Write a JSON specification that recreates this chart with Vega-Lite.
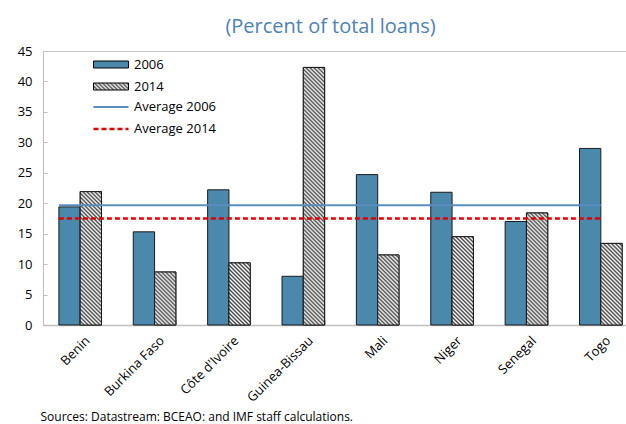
{
  "$schema": "https://vega.github.io/schema/vega-lite/v6.json",
  "width": 595,
  "height": 274,
  "autosize": {"type": "none"},
  "padding": {"left": 43, "top": 51, "right": 0, "bottom": 99},
  "config": {"font": "Open Sans", "view": {"stroke": "#c4c4c4"}},
  "title": {"text": "(Percent of total loans)", "fontSize": 20, "fontWeight": "normal", "color": "#4F81B4", "anchor": "middle", "offset": 8, "dx": -10},
  "params": [
    {"name": "hatchStops", "value": [
      {"offset":0,"color":"#444"},{"offset":0.005,"color":"#fff"},{"offset":0.01,"color":"#444"},{"offset":0.015,"color":"#fff"},{"offset":0.02,"color":"#444"},{"offset":0.025,"color":"#fff"},{"offset":0.03,"color":"#444"},{"offset":0.035,"color":"#fff"},{"offset":0.04,"color":"#444"},{"offset":0.045,"color":"#fff"},
      {"offset":0.05,"color":"#444"},{"offset":0.055,"color":"#fff"},{"offset":0.06,"color":"#444"},{"offset":0.065,"color":"#fff"},{"offset":0.07,"color":"#444"},{"offset":0.075,"color":"#fff"},{"offset":0.08,"color":"#444"},{"offset":0.085,"color":"#fff"},{"offset":0.09,"color":"#444"},{"offset":0.095,"color":"#fff"},
      {"offset":0.1,"color":"#444"},{"offset":0.105,"color":"#fff"},{"offset":0.11,"color":"#444"},{"offset":0.115,"color":"#fff"},{"offset":0.12,"color":"#444"},{"offset":0.125,"color":"#fff"},{"offset":0.13,"color":"#444"},{"offset":0.135,"color":"#fff"},{"offset":0.14,"color":"#444"},{"offset":0.145,"color":"#fff"},
      {"offset":0.15,"color":"#444"},{"offset":0.155,"color":"#fff"},{"offset":0.16,"color":"#444"},{"offset":0.165,"color":"#fff"},{"offset":0.17,"color":"#444"},{"offset":0.175,"color":"#fff"},{"offset":0.18,"color":"#444"},{"offset":0.185,"color":"#fff"},{"offset":0.19,"color":"#444"},{"offset":0.195,"color":"#fff"},
      {"offset":0.2,"color":"#444"},{"offset":0.205,"color":"#fff"},{"offset":0.21,"color":"#444"},{"offset":0.215,"color":"#fff"},{"offset":0.22,"color":"#444"},{"offset":0.225,"color":"#fff"},{"offset":0.23,"color":"#444"},{"offset":0.235,"color":"#fff"},{"offset":0.24,"color":"#444"},{"offset":0.245,"color":"#fff"},
      {"offset":0.25,"color":"#444"},{"offset":0.255,"color":"#fff"},{"offset":0.26,"color":"#444"},{"offset":0.265,"color":"#fff"},{"offset":0.27,"color":"#444"},{"offset":0.275,"color":"#fff"},{"offset":0.28,"color":"#444"},{"offset":0.285,"color":"#fff"},{"offset":0.29,"color":"#444"},{"offset":0.295,"color":"#fff"},
      {"offset":0.3,"color":"#444"},{"offset":0.305,"color":"#fff"},{"offset":0.31,"color":"#444"},{"offset":0.315,"color":"#fff"},{"offset":0.32,"color":"#444"},{"offset":0.325,"color":"#fff"},{"offset":0.33,"color":"#444"},{"offset":0.335,"color":"#fff"},{"offset":0.34,"color":"#444"},{"offset":0.345,"color":"#fff"},
      {"offset":0.35,"color":"#444"},{"offset":0.355,"color":"#fff"},{"offset":0.36,"color":"#444"},{"offset":0.365,"color":"#fff"},{"offset":0.37,"color":"#444"},{"offset":0.375,"color":"#fff"},{"offset":0.38,"color":"#444"},{"offset":0.385,"color":"#fff"},{"offset":0.39,"color":"#444"},{"offset":0.395,"color":"#fff"},
      {"offset":0.4,"color":"#444"},{"offset":0.405,"color":"#fff"},{"offset":0.41,"color":"#444"},{"offset":0.415,"color":"#fff"},{"offset":0.42,"color":"#444"},{"offset":0.425,"color":"#fff"},{"offset":0.43,"color":"#444"},{"offset":0.435,"color":"#fff"},{"offset":0.44,"color":"#444"},{"offset":0.445,"color":"#fff"},
      {"offset":0.45,"color":"#444"},{"offset":0.455,"color":"#fff"},{"offset":0.46,"color":"#444"},{"offset":0.465,"color":"#fff"},{"offset":0.47,"color":"#444"},{"offset":0.475,"color":"#fff"},{"offset":0.48,"color":"#444"},{"offset":0.485,"color":"#fff"},{"offset":0.49,"color":"#444"},{"offset":0.495,"color":"#fff"},
      {"offset":0.5,"color":"#444"},{"offset":0.505,"color":"#fff"},{"offset":0.51,"color":"#444"},{"offset":0.515,"color":"#fff"},{"offset":0.52,"color":"#444"},{"offset":0.525,"color":"#fff"},{"offset":0.53,"color":"#444"},{"offset":0.535,"color":"#fff"},{"offset":0.54,"color":"#444"},{"offset":0.545,"color":"#fff"},
      {"offset":0.55,"color":"#444"},{"offset":0.555,"color":"#fff"},{"offset":0.56,"color":"#444"},{"offset":0.565,"color":"#fff"},{"offset":0.57,"color":"#444"},{"offset":0.575,"color":"#fff"},{"offset":0.58,"color":"#444"},{"offset":0.585,"color":"#fff"},{"offset":0.59,"color":"#444"},{"offset":0.595,"color":"#fff"},
      {"offset":0.6,"color":"#444"},{"offset":0.605,"color":"#fff"},{"offset":0.61,"color":"#444"},{"offset":0.615,"color":"#fff"},{"offset":0.62,"color":"#444"},{"offset":0.625,"color":"#fff"},{"offset":0.63,"color":"#444"},{"offset":0.635,"color":"#fff"},{"offset":0.64,"color":"#444"},{"offset":0.645,"color":"#fff"},
      {"offset":0.65,"color":"#444"},{"offset":0.655,"color":"#fff"},{"offset":0.66,"color":"#444"},{"offset":0.665,"color":"#fff"},{"offset":0.67,"color":"#444"},{"offset":0.675,"color":"#fff"},{"offset":0.68,"color":"#444"},{"offset":0.685,"color":"#fff"},{"offset":0.69,"color":"#444"},{"offset":0.695,"color":"#fff"},
      {"offset":0.7,"color":"#444"},{"offset":0.705,"color":"#fff"},{"offset":0.71,"color":"#444"},{"offset":0.715,"color":"#fff"},{"offset":0.72,"color":"#444"},{"offset":0.725,"color":"#fff"},{"offset":0.73,"color":"#444"},{"offset":0.735,"color":"#fff"},{"offset":0.74,"color":"#444"},{"offset":0.745,"color":"#fff"},
      {"offset":0.75,"color":"#444"},{"offset":0.755,"color":"#fff"},{"offset":0.76,"color":"#444"},{"offset":0.765,"color":"#fff"},{"offset":0.77,"color":"#444"},{"offset":0.775,"color":"#fff"},{"offset":0.78,"color":"#444"},{"offset":0.785,"color":"#fff"},{"offset":0.79,"color":"#444"},{"offset":0.795,"color":"#fff"},
      {"offset":0.8,"color":"#444"},{"offset":0.805,"color":"#fff"},{"offset":0.81,"color":"#444"},{"offset":0.815,"color":"#fff"},{"offset":0.82,"color":"#444"},{"offset":0.825,"color":"#fff"},{"offset":0.83,"color":"#444"},{"offset":0.835,"color":"#fff"},{"offset":0.84,"color":"#444"},{"offset":0.845,"color":"#fff"},
      {"offset":0.85,"color":"#444"},{"offset":0.855,"color":"#fff"},{"offset":0.86,"color":"#444"},{"offset":0.865,"color":"#fff"},{"offset":0.87,"color":"#444"},{"offset":0.875,"color":"#fff"},{"offset":0.88,"color":"#444"},{"offset":0.885,"color":"#fff"},{"offset":0.89,"color":"#444"},{"offset":0.895,"color":"#fff"},
      {"offset":0.9,"color":"#444"},{"offset":0.905,"color":"#fff"},{"offset":0.91,"color":"#444"},{"offset":0.915,"color":"#fff"},{"offset":0.92,"color":"#444"},{"offset":0.925,"color":"#fff"},{"offset":0.93,"color":"#444"},{"offset":0.935,"color":"#fff"},{"offset":0.94,"color":"#444"},{"offset":0.945,"color":"#fff"},
      {"offset":0.95,"color":"#444"},{"offset":0.955,"color":"#fff"},{"offset":0.96,"color":"#444"},{"offset":0.965,"color":"#fff"},{"offset":0.97,"color":"#444"},{"offset":0.975,"color":"#fff"},{"offset":0.98,"color":"#444"},{"offset":0.985,"color":"#fff"},{"offset":0.99,"color":"#444"},{"offset":0.995,"color":"#fff"},
      {"offset":1,"color":"#444"}
    ]}
  ],
  "datasets": {
    "bars": [
      {"country": "Benin", "year": "2006", "value": 19.4},
      {"country": "Benin", "year": "2014", "value": 21.9},
      {"country": "Burkina Faso", "year": "2006", "value": 15.3},
      {"country": "Burkina Faso", "year": "2014", "value": 8.7},
      {"country": "Côte d'Ivoire", "year": "2006", "value": 22.2},
      {"country": "Côte d'Ivoire", "year": "2014", "value": 10.2},
      {"country": "Guinea-Bissau", "year": "2006", "value": 8.0},
      {"country": "Guinea-Bissau", "year": "2014", "value": 42.3},
      {"country": "Mali", "year": "2006", "value": 24.7},
      {"country": "Mali", "year": "2014", "value": 11.5},
      {"country": "Niger", "year": "2006", "value": 21.8},
      {"country": "Niger", "year": "2014", "value": 14.5},
      {"country": "Senegal", "year": "2006", "value": 17.0},
      {"country": "Senegal", "year": "2014", "value": 18.4},
      {"country": "Togo", "year": "2006", "value": 29.0},
      {"country": "Togo", "year": "2014", "value": 13.4}
    ],
    "avgs": [
      {"series": "Average 2006", "value": 19.65, "from": "Benin", "to": "Togo"},
      {"series": "Average 2014", "value": 17.5, "from": "Benin", "to": "Togo"}
    ]
  },
  "encoding": {
    "y": {
      "field": "value", "type": "quantitative",
      "scale": {"domain": [0, 45], "nice": false},
      "axis": {
        "title": null, "values": [0, 5, 10, 15, 20, 25, 30, 35, 40, 45], "labelOverlap": false,
        "grid": false, "labelFontSize": 13, "labelColor": "#000", "labelPadding": 15,
        "tickSize": -4, "tickColor": "#bfbfbf", "domainColor": "#bfbfbf"
      }
    }
  },
  "layer": [
    {
      "data": {"name": "bars"},
      "mark": {"type": "bar", "stroke": "#1a1a1a", "strokeWidth": 1},
      "encoding": {
        "x": {
          "field": "country", "type": "nominal", "sort": null,
          "scale": {"paddingInner": 0.427, "paddingOuter": 0.2135},
          "axis": {
            "title": "Sources: Datastream:  BCEAO: and IMF staff calculations.",
            "titleFontSize": 12, "titleFontWeight": "normal", "titleColor": "#000",
            "titleAnchor": "start", "titleAlign": "left", "titleBaseline": "alphabetic",
            "titleX": -3, "titleY": 95,
            "labelAngle": -45, "labelFontSize": 13, "labelColor": "#000", "labelPadding": 14, "labelOffset": 3,
            "tickBand": "extent", "tickSize": -5, "tickColor": "#bfbfbf", "domainColor": "#bfbfbf", "domainWidth": 1.5
          }
        },
        "xOffset": {"field": "year", "type": "nominal", "scale": {"paddingInner": 0}},
        "color": {
          "field": "year", "type": "nominal",
          "scale": {"domain": ["2006", "2014"], "range": ["#4A89AC", {"expr": "{gradient: 'linear', x1: 0, y1: 1, x2: 11, y2: -1.2, stops: hatchStops}"}]},
          "legend": {
            "title": null, "orient": "none", "legendX": 61.5, "legendY": 7, "padding": 0,
            "symbolSize": 100, "labelFontSize": 13, "labelColor": "#000", "labelOffset": 16.5, "rowPadding": 8,
            "symbolType": "M-3.5,-0.7H3.5V0.7H-3.5Z", "symbolStrokeColor": "#000", "symbolStrokeWidth": 1
          }
        }
      }
    },
    {
      "data": {"name": "bars"},
      "transform": [{"filter": "datum.year === '2014'"}],
      "mark": {"type": "bar", "stroke": "#1a1a1a", "strokeWidth": 1,
        "fill": {"expr": "{gradient: 'linear', x1: 0, y1: 1, x2: 21.3 * 400 / (453.7 + pow(datum.value * 6.0889, 2)), y2: 1 - datum.value * 6.0889 * 400 / (453.7 + pow(datum.value * 6.0889, 2)), stops: hatchStops}"}},
      "encoding": {
        "x": {"field": "country", "type": "nominal", "sort": null},
        "xOffset": {"field": "year", "type": "nominal"}
      }
    },
    {
      "data": {"name": "avgs"},
      "mark": {"type": "rule"},
      "encoding": {
        "x": {"field": "from", "type": "nominal", "bandPosition": 0},
        "x2": {"field": "to", "bandPosition": 0.5},
        "stroke": {
          "field": "series", "type": "nominal",
          "scale": {"domain": ["Average 2006", "Average 2014"], "range": ["#5B8CC0", "#E00000"]},
          "legend": {
            "title": null, "orient": "none", "legendX": 61.5, "legendY": 49.5, "padding": 0,
            "symbolSize": 100, "labelFontSize": 13, "labelColor": "#000", "labelOffset": 16.5, "rowPadding": 8,
            "symbolType": "M-3.5,0H3.5", "symbolStrokeWidth": 2
          }
        },
        "strokeWidth": {"field": "series", "type": "nominal", "scale": {"domain": ["Average 2006", "Average 2014"], "range": [2, 2.5]}, "legend": null},
        "strokeDash": {"field": "series", "type": "nominal", "scale": {"domain": ["Average 2006", "Average 2014"], "range": [[1, 0], [5, 3]]}}
      }
    }
  ]
}
